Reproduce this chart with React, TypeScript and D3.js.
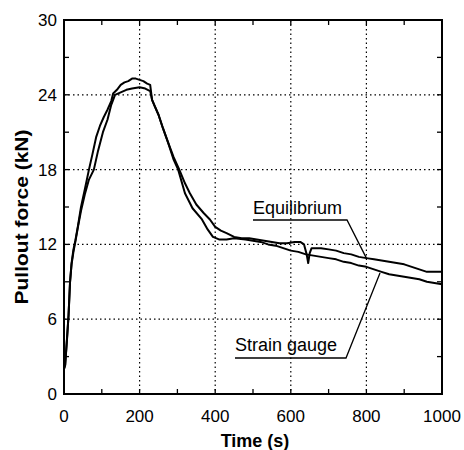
import React from "react";
import * as d3 from "d3";

const W = 464;
const H = 450;

const xTicks = [0, 200, 400, 600, 800, 1000];
const yTicks = [0, 6, 12, 18, 24, 30];
const xMinor = [100, 300, 500, 700, 900];
const yMinor = [3, 9, 15, 21, 27];

const eqTime = [0, 3, 8, 12, 16, 20, 25, 30, 37, 45, 55, 66, 75, 85, 95, 105, 115, 125, 130, 140, 150, 160, 170, 180, 190, 200, 210, 220, 228, 233, 240, 250, 262, 275, 290, 305, 320, 333, 350, 370, 386, 400, 415, 430, 450, 470, 490, 510, 530, 550, 570, 590, 610, 625, 635, 642, 646, 650, 655, 665, 680, 700, 720, 740, 760, 780, 800, 820, 840, 860, 880, 900, 920, 940, 960, 980, 1000];
const eqForce = [2.0, 2.3, 4.5, 6.3, 9.0, 10.5, 11.6, 12.3, 13.5, 15.0, 16.4, 18.0, 19.2, 20.6, 21.5, 22.2, 22.8, 23.5, 24.1, 24.4, 24.8, 25.0, 25.1, 25.3, 25.3, 25.2, 25.1, 24.9, 24.8, 23.6, 23.1, 22.4, 21.3, 20.2, 19.0, 18.0, 16.9, 16.1, 15.2, 14.5, 14.0, 13.4, 13.1, 12.9, 12.6, 12.5, 12.5, 12.4, 12.3, 12.2, 12.1, 12.1, 12.2, 12.2, 12.0, 11.2, 10.5, 11.3, 11.7, 11.7, 11.7, 11.6, 11.5, 11.3, 11.2, 11.0, 10.9, 10.8, 10.7, 10.6, 10.5, 10.4, 10.2, 10.0, 9.8, 9.8, 9.8];

const sgTime = [0, 3, 8, 12, 16, 20, 25, 30, 37, 45, 55, 66, 79, 90, 103, 115, 125, 135, 150, 165, 180, 200, 215, 228, 233, 240, 250, 262, 275, 290, 302, 320, 340, 365, 380, 394, 410, 430, 450, 480, 500, 520, 540, 560, 580, 600, 620, 640, 660, 680, 700, 720, 740, 760, 780, 800, 820, 840, 860, 880, 900, 920, 940, 960, 980, 1000];
const sgForce = [2.0, 2.3, 4.4, 6.3, 9.0, 10.4, 11.4, 12.2, 13.4, 14.7, 16.0, 17.2, 18.0, 19.5, 21.0, 22.0, 23.2, 24.0, 24.2, 24.4, 24.5, 24.6, 24.5, 24.3, 23.6, 23.1, 22.4, 21.3, 20.2, 18.8, 18.0, 16.1, 14.9, 14.0, 13.2, 12.6, 12.4, 12.4, 12.5, 12.4, 12.3, 12.2, 12.0, 11.9, 11.7, 11.5, 11.4, 11.2, 11.1, 11.0, 10.9, 10.8, 10.6, 10.5, 10.3, 10.2, 10.0, 9.8, 9.6, 9.5, 9.4, 9.3, 9.2, 9.0, 8.9, 8.8];

const seriesNames = ["Equilibrium", "Strain gauge"];

export default function App() {
  const left = 64, right = 442, top = 20, bottom = 394;
  const x = d3.scaleLinear().domain([0, 1000]).range([left, right]);
  const y = d3.scaleLinear().domain([0, 30]).range([bottom, top]);
  const line = d3
    .line<[number, number]>()
    .x((d) => x(d[0]))
    .y((d) => y(d[1]));
  const eq: [number, number][] = eqTime.map((t, i) => [t, eqForce[i]]);
  const sg: [number, number][] = sgTime.map((t, i) => [t, sgForce[i]]);
  const font = "'Liberation Sans', Arial, sans-serif";
  const tl = 5;

  return (
    <svg width={W} height={H} style={{ position: "absolute", left: 0, top: 0 }} fontFamily={font}>
      <rect width={W} height={H} fill="#fff" />
      {xTicks.slice(1, -1).map((t) => (
        <line key={"gx" + t} x1={x(t)} x2={x(t)} y1={top} y2={bottom} stroke="#000" strokeWidth={1.2} strokeDasharray="1.5,3" />
      ))}
      {yTicks.slice(1, -1).map((t) => (
        <line key={"gy" + t} x1={left} x2={right} y1={y(t)} y2={y(t)} stroke="#000" strokeWidth={1.2} strokeDasharray="1.5,3" />
      ))}
      {[...xTicks, ...xMinor].map((t) => (
        <g key={"tx" + t}>
          <line x1={x(t)} x2={x(t)} y1={bottom} y2={bottom - tl} stroke="#000" strokeWidth={1.3} />
          <line x1={x(t)} x2={x(t)} y1={top} y2={top + tl} stroke="#000" strokeWidth={1.3} />
        </g>
      ))}
      {[...yTicks, ...yMinor].map((t) => (
        <g key={"ty" + t}>
          <line x1={left} x2={left + tl} y1={y(t)} y2={y(t)} stroke="#000" strokeWidth={1.3} />
          <line x1={right} x2={right - tl} y1={y(t)} y2={y(t)} stroke="#000" strokeWidth={1.3} />
        </g>
      ))}
      <path d={line(sg) || ""} fill="none" stroke="#000" strokeWidth={2} strokeLinejoin="round" />
      <path d={line(eq) || ""} fill="none" stroke="#000" strokeWidth={2} strokeLinejoin="round" />
      <rect x={left} y={top} width={right - left} height={bottom - top} fill="none" stroke="#000" strokeWidth={2} />
      {xTicks.map((t) => (
        <text key={"lx" + t} x={x(t)} y={422} textAnchor="middle" fontSize={17}>
          {t}
        </text>
      ))}
      {yTicks.map((t) => (
        <text key={"ly" + t} x={57} y={y(t) + 6} textAnchor="end" fontSize={17}>
          {t}
        </text>
      ))}
      <text x={(left + right) / 2 + 2} y={447} textAnchor="middle" fontSize={18} fontWeight="bold">
        Time (s)
      </text>
      <text transform={`translate(28,217) rotate(-90)`} textAnchor="middle" fontSize={18} fontWeight="bold" textLength={175} lengthAdjust="spacingAndGlyphs">
        Pullout force (kN)
      </text>
      <text x={253} y={214} fontSize={18}>{seriesNames[0]}</text>
      <polyline points={`253,220 347,220 ${x(800)},${y(10.9)}`} fill="none" stroke="#000" strokeWidth={1.3} />
      <text x={235} y={351} fontSize={18}>{seriesNames[1]}</text>
      <polyline points={`235,358 346,358 ${x(836)},${y(9.7)}`} fill="none" stroke="#000" strokeWidth={1.3} />
    </svg>
  );
}
